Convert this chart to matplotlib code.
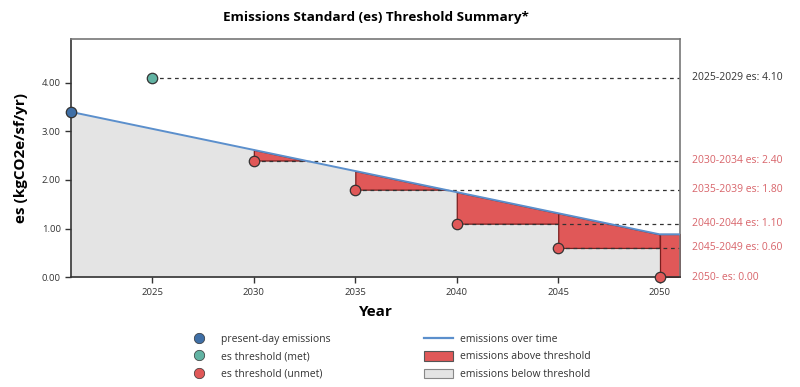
import matplotlib
matplotlib.use("Agg")
import matplotlib.pyplot as plt
import numpy as np
from matplotlib.lines import Line2D
from matplotlib.patches import Patch
from matplotlib.transforms import blended_transform_factory

plt.rcParams["font.family"] = ["Open Sans", "DejaVu Sans"]

# emissions over time
em_years = [2021, 2050, 2051]
emissions = [3.40, 0.88, 0.88]

# emissions standard thresholds
es_years = [2025, 2030, 2035, 2040, 2045, 2050]
es_values = [4.10, 2.40, 1.80, 1.10, 0.60, 0.00]
es_met = [True, False, False, False, False, False]
es_labels = ["2025-2029", "2030-2034", "2035-2039", "2040-2044", "2045-2049", "2050-"]

c_blue = "#3f6fa6"
c_line = "#5b8fcc"
c_teal = "#62b3a3"
c_red = "#e05858"
c_red_edge = "#7a1f1f"
c_red_text = "#d8646a"
c_gray = "#e4e4e4"

fig = plt.figure(figsize=(8, 3.87), dpi=100)
ax = fig.add_axes([0.089, 0.284, 0.761, 0.615])
x_end = 2051
ax.set_xlim(2021, x_end)
ax.set_ylim(0, 4.9)

# grey area below emissions
ax.fill_between(em_years, 0, emissions, color=c_gray, lw=0, zorder=1)

# red area above threshold
bounds = es_years + [x_end]
for i, thr in enumerate(es_values):
    xs = np.linspace(bounds[i], bounds[i + 1], 200)
    ys = np.interp(xs, em_years, emissions)
    if np.any(ys > thr):
        ax.fill_between(xs, thr, ys, where=ys > thr, interpolate=True,
                        facecolor=c_red, edgecolor=c_red_edge, lw=0.9, zorder=2)

ax.plot(em_years, emissions, color=c_line, lw=1.4, zorder=3)

# dashed threshold lines + labels
trans = blended_transform_factory(ax.transAxes, ax.transData)
for yr, val, met, lab in zip(es_years, es_values, es_met, es_labels):
    ax.hlines(val, yr, x_end, colors="#333333", linestyles=(0, (3, 3)), lw=0.9, zorder=2.5)
    ax.text(1.02, val, f"{lab} es: {val:.2f}", transform=trans, va="center", ha="left",
            fontsize=7.5, color="#333333" if met else c_red_text, clip_on=False)
    ax.plot(yr, val, "o", ms=7.5, mfc=c_teal if met else c_red, mec="#333333",
            mew=0.9, zorder=5, clip_on=False)

ax.plot(em_years[0], emissions[0], "o", ms=7.5, mfc=c_blue, mec="#333333",
        mew=0.9, zorder=5, clip_on=False)

ax.set_xticks([2025, 2030, 2035, 2040, 2045, 2050])
ax.set_yticks([0, 1, 2, 3, 4])
ax.set_yticklabels([f"{v:.2f}" for v in [0, 1, 2, 3, 4]])
ax.tick_params(labelsize=6.8, colors="#333333", length=4, width=1)
for s in ["left", "bottom"]:
    ax.spines[s].set_color("#333333")
    ax.spines[s].set_linewidth(1.2)
for s in ["top", "right"]:
    ax.spines[s].set_color("#777777")
    ax.spines[s].set_linewidth(1.2)

ax.set_xlabel("Year", fontsize=11, fontweight="bold", labelpad=6)
ax.set_ylabel("es (kgCO2e/sf/yr)", fontsize=11, fontweight="bold", labelpad=10)
ax.set_title("Emissions Standard (es) Threshold Summary*", fontsize=9.7, fontweight="bold", pad=13)

handles = [
    Line2D([], [], ls="none", marker="o", ms=7.5, mfc=c_blue, mec="#333333", mew=0.5),
    Line2D([], [], ls="none", marker="o", ms=7.5, mfc=c_teal, mec="#333333", mew=0.5),
    Line2D([], [], ls="none", marker="o", ms=7.5, mfc=c_red, mec="#333333", mew=0.5),
    Line2D([], [], color=c_line, lw=1.6),
    Patch(facecolor=c_red, edgecolor="#555555", lw=0.8),
    Patch(facecolor=c_gray, edgecolor="#888888", lw=0.8),
]
labels = ["present-day emissions", "es threshold (met)", "es threshold (unmet)",
          "emissions over time", "emissions above threshold", "emissions below threshold"]
fig.legend(handles, labels, loc="center", bbox_to_anchor=(0.485, 0.078), ncol=2,
           frameon=False, fontsize=7.5, columnspacing=9, handlelength=2.7,
           handleheight=1.0, labelspacing=0.6, handletextpad=0.75, labelcolor="#333333")

fig.savefig("out.png", dpi=100)
